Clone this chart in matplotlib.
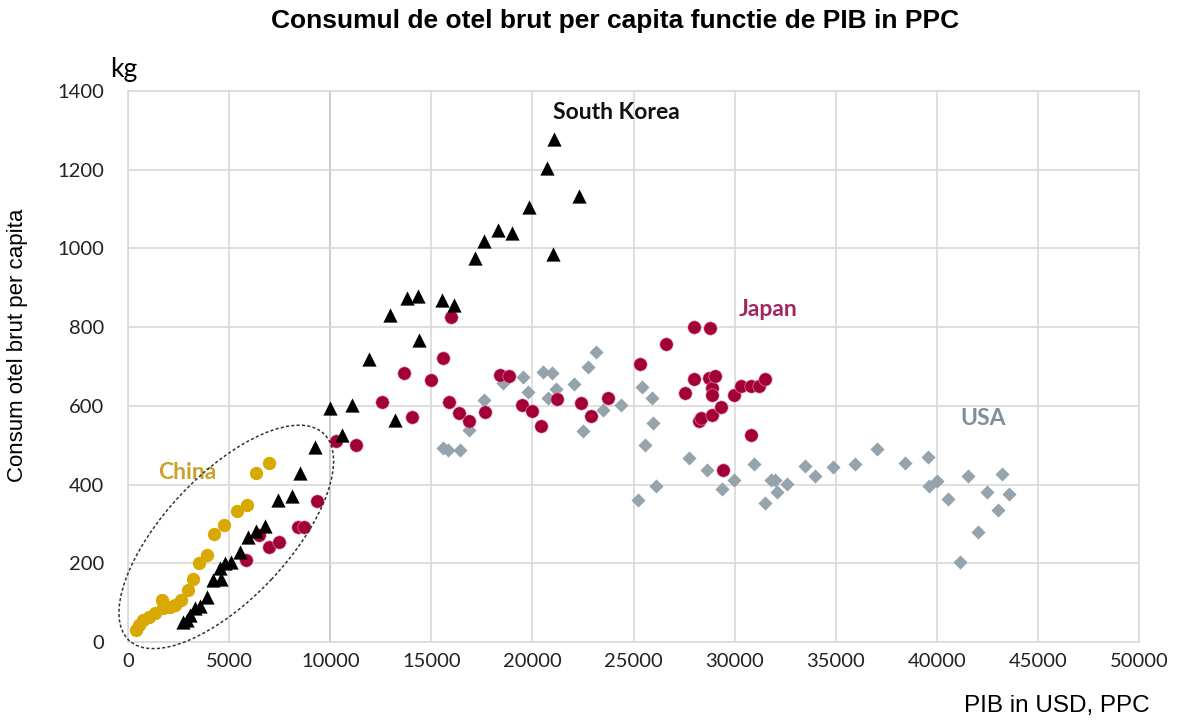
import numpy as np
import matplotlib.pyplot as plt
from matplotlib.patches import Ellipse
from matplotlib.transforms import ScaledTranslation

# date (PIB in USD PPC, kg per capita)
china_x = [395, 559, 756, 1052, 1333, 1663, 1743, 2073, 2320, 2601, 2947, 3193, 3520,
           3883, 4260, 4753, 5395, 5889, 6352, 6975]
china_y = [31, 43, 56, 64, 73, 107, 86, 88, 94, 107, 132, 160, 200,
           221, 275, 298, 332, 349, 429, 456]

korea_x = [2730, 2897, 3060, 3307, 3554, 3915, 4211, 4623, 4541, 4788, 5117, 5528, 5939,
           6352, 6762, 7419, 8129, 8524, 9263, 10000, 10577, 11091, 11911, 13228, 12981,
           14412, 13789, 14330, 15535, 16111, 17177, 17586, 18312, 18970, 19842, 21043,
           20745, 21076, 22310]
korea_y = [52, 56, 69, 86, 92, 114, 158, 160, 188, 200, 202, 228, 268,
           281, 295, 361, 372, 429, 495, 595, 527, 601, 719, 565, 832,
           768, 875, 879, 869, 857, 976, 1019, 1048, 1040, 1104, 985,
           1205, 1277, 1132]

japan_x = [5859, 6481, 6975, 7470, 8409, 8687, 9344, 10267, 11290, 12555, 13636, 14049,
           14985, 15597, 15893, 15972, 16353, 16880, 17656, 18411, 18825, 19462, 19973,
           20418, 21240, 22425, 22920, 23757, 25306, 26589, 27542, 27986, 27986, 28233,
           28326, 28736, 28760, 28900, 28900, 28900, 29033, 29312, 29423, 29970, 30300,
           30793, 30793, 31205, 31480]
japan_y = [209, 272, 242, 255, 292, 292, 357, 510, 501, 609, 684, 571,
           665, 722, 611, 825, 582, 561, 584, 679, 677, 603, 586,
           550, 618, 607, 575, 620, 707, 758, 633, 800, 669, 561,
           569, 671, 798, 645, 628, 578, 677, 597, 438, 628, 650,
           650, 525, 650, 669]

usa_x = [15562, 15809, 16436, 16880, 17620, 18527, 19514, 19793, 20533, 20750, 20960,
         21160, 22063, 22521, 22770, 23134, 23495, 24358, 25222, 25434, 25567, 25928,
         25962, 26096, 27739, 28642, 29382, 29995, 30953, 31480, 31776, 32022, 32100,
         32593, 33495, 33955, 34844, 35963, 37032, 38432, 39585, 39617, 39995, 40572,
         41148, 41560, 42021, 42465, 43041, 43206, 43569]
usa_y = [493, 487, 487, 539, 616, 658, 673, 635, 685, 620, 684,
         643, 656, 535, 699, 736, 589, 603, 360, 648, 500, 620,
         556, 397, 467, 436, 389, 412, 452, 353, 412, 412, 380,
         402, 448, 421, 444, 453, 490, 456, 470, 397, 410, 364,
         202, 421, 279, 381, 336, 427, 376]

x_ticks = [0, 5000, 10000, 15000, 20000, 25000, 30000, 35000, 40000, 45000, 50000]
y_ticks = [0, 200, 400, 600, 800, 1000, 1200, 1400]

col_china = '#D8A903'
col_korea = '#000000'
col_japan = '#A3003A'
col_usa = '#95A3AD'

fig = plt.figure(figsize=(11.87, 7.2), dpi=100)
ax = fig.add_axes([128 / 1187, 1 - 642 / 720, (1139 - 128) / 1187, (642 - 91) / 720])

ax.set_xlim(0, 50000)
ax.set_ylim(0, 1400)
ax.set_xticks(x_ticks)
ax.set_yticks(y_ticks)
ax.grid(True, color='#D9D9D9', linewidth=1.2, zorder=0)
ax.set_axisbelow(True)
ax.axvline(10000, color='#7F7F7F', linewidth=1.2, zorder=0.5)
for s in ax.spines.values():
    s.set_color('#D9D9D9')
    s.set_linewidth(1.2)
ax.tick_params(length=0, labelsize=14.5, colors='#222222')
ax.tick_params(axis='y', pad=17)
ax.tick_params(axis='x', pad=8)
for lab in ax.get_xticklabels() + ax.get_yticklabels():
    lab.set_family('Lato')

ax.scatter(usa_x, usa_y, marker='D', s=52, color=col_usa, linewidths=0, zorder=3)
ax.scatter(japan_x, japan_y, marker='o', s=92, color=col_japan, edgecolors='#E8A0B4',
           linewidths=0.4, zorder=4)
ax.scatter(korea_x, korea_y, marker='^', s=105, color=col_korea, linewidths=0, zorder=5)
ax.scatter(china_x, china_y, marker='o', s=92, color=col_china, linewidths=0, zorder=4)

# elipsa punctata in jurul tarilor in curs de dezvoltare
tr = fig.dpi_scale_trans + ScaledTranslation(4860, 267, ax.transData)
ell = Ellipse((0, 0), width=2 * 1.42, height=2 * 0.62, angle=46.7, transform=tr,
              fill=False, linestyle=(0, (2, 1.5)), linewidth=1.1, edgecolor='#333333',
              clip_on=False, zorder=6)
ax.add_patch(ell)

lbl = dict(family='Lato', fontweight='bold', fontsize=16.5, ha='center', va='center')
ax.text(24136, 1346, 'South Korea', color='#111111', **lbl)
ax.text(31673, 846, 'Japan', color='#A02860', **lbl)
ax.text(42300, 567, 'USA', color='#7F8F99', **lbl)
ax.text(2912, 430, 'China', color='#C9A22A', **lbl)

fig.text(615 / 1187, 1 - 21 / 720, 'Consumul de otel brut per capita functie de PIB in PPC',
         family='Liberation Sans', fontweight='bold', fontsize=19, ha='center', va='center')
fig.text(124 / 1187, 1 - 69 / 720, 'kg', family='Lato', fontsize=19, ha='center', va='center')
fig.text(18 / 1187, 1 - 345 / 720, 'Consum otel brut per capita', family='Liberation Sans',
         fontsize=16, rotation=90, ha='center', va='center')
fig.text(1057 / 1187, 1 - 706 / 720, 'PIB in USD, PPC', family='Liberation Sans',
         fontsize=17.5, ha='center', va='center')

fig.savefig('out.png', dpi=100)
